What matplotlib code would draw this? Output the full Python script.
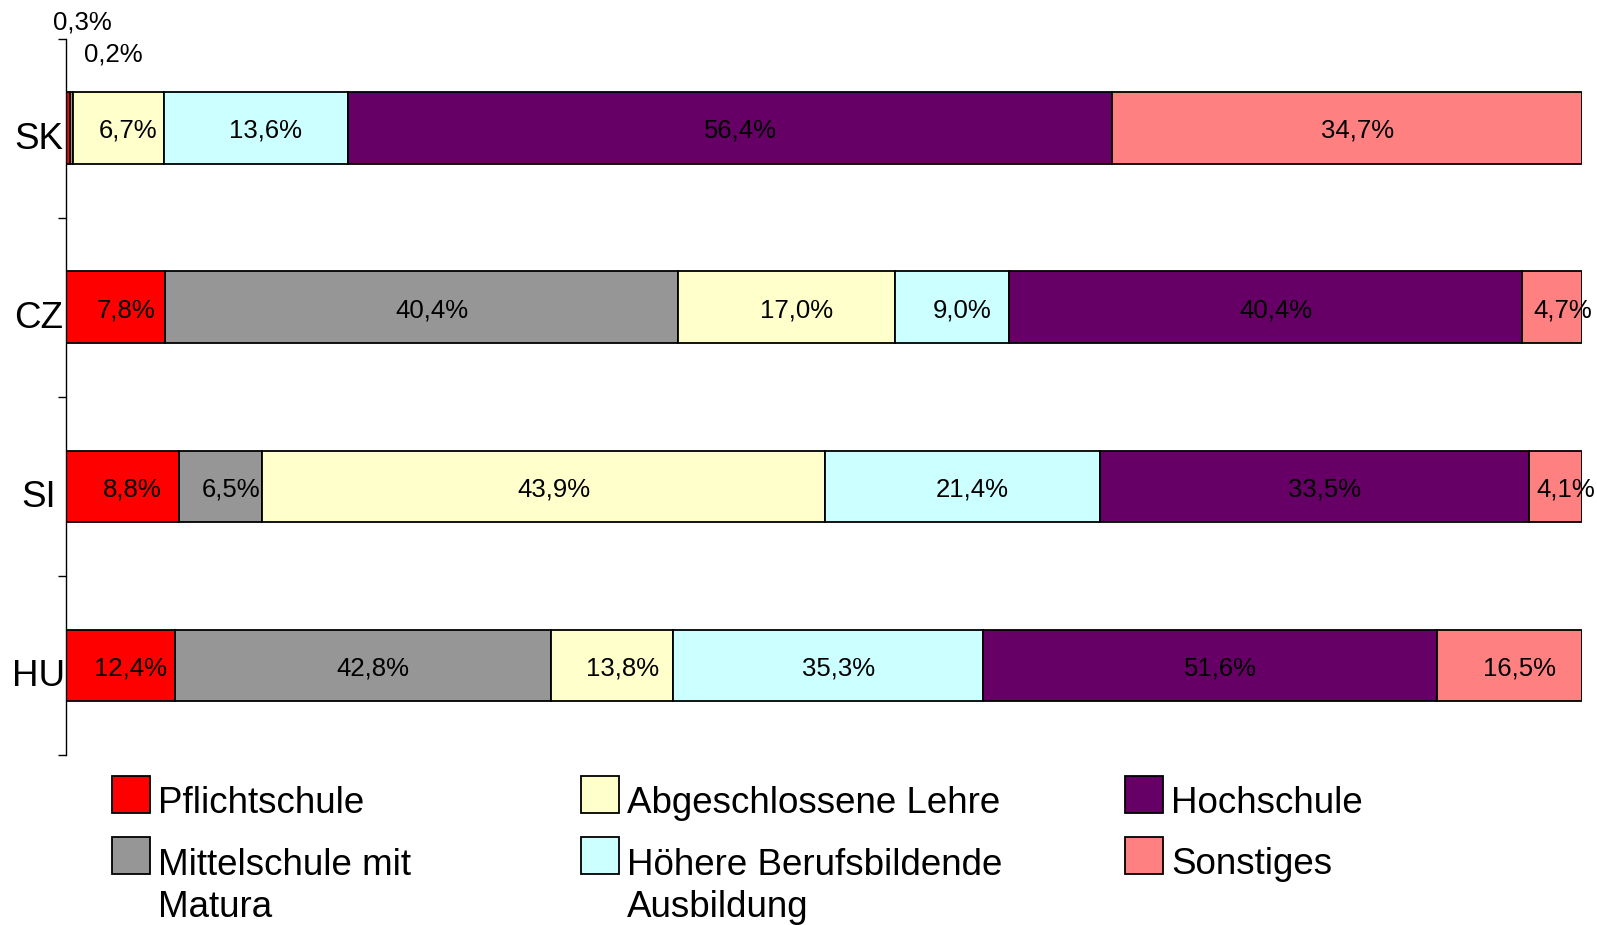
import numpy as np
import matplotlib
matplotlib.use("Agg")
import matplotlib.pyplot as plt
from matplotlib.patches import Rectangle
from matplotlib.transforms import ScaledTranslation

plt.rcParams['font.family'] = ['Liberation Sans', 'DejaVu Sans']

# data
countries = ["SK", "CZ", "SI", "HU"]
categories = ["Pflichtschule", "Mittelschule mit\nMatura", "Abgeschlossene Lehre",
              "Höhere Berufsbildende\nAusbildung", "Hochschule", "Sonstiges"]
colors = ["#FF0000", "#969696", "#FFFFCC", "#CCFFFF", "#660066", "#FF8080"]

pflicht = [0.3, 7.8, 8.8, 12.4]
mittel = [0.2, 40.4, 6.5, 42.8]
lehre = [6.7, 17.0, 43.9, 13.8]
bhs = [13.6, 9.0, 21.4, 35.3]
hochschule = [56.4, 40.4, 33.5, 51.6]
sonstiges = [34.7, 4.7, 4.1, 16.5]

values = np.array([pflicht, mittel, lehre, bhs, hochschule, sonstiges])  # (cat, country)
shares = values / values.sum(axis=0)

fig = plt.figure(figsize=(15.97, 9.25), dpi=100)
ax = fig.add_axes([0.0413, 0.1838, 0.9493, 0.7744])

y = np.arange(len(countries))
bar_h = 0.4
left = np.zeros(len(countries))

# offsets (points) for labels of tiny segments, placed above the bar
small_offsets = {0: (10, 50.5), 1: (30, 27)}
label_offset = (7.3, -2)

for i, cat in enumerate(categories):
    ax.barh(y, shares[i], left=left, height=bar_h, color=colors[i],
            edgecolor="black", linewidth=1.3)
    for j in range(len(countries)):
        txt = f"{values[i, j]:.1f}%".replace(".", ",")
        cx = left[j] + shares[i, j] / 2
        if shares[i, j] < 0.01:
            ax.annotate(txt, xy=(cx, y[j] - bar_h / 2), xytext=small_offsets[i],
                        textcoords="offset points", ha="center", va="center",
                        fontsize=18.5, annotation_clip=False)
        else:
            ax.annotate(txt, xy=(cx, y[j]), xytext=label_offset,
                        textcoords="offset points", ha="center", va="center",
                        fontsize=18.5, annotation_clip=False)
    left += shares[i]

ax.set_xlim(0, 1)
ax.set_ylim(len(countries) - 0.5, -0.5)
ax.set_xticks([])
for s in ["top", "right", "bottom"]:
    ax.spines[s].set_visible(False)
ax.spines["left"].set_linewidth(1.0)

ax.set_yticks(y)
ax.set_yticklabels(countries, fontsize=26.5, ha="center")
ax.tick_params(axis="y", which="major", length=0, pad=19.7)
ax.set_yticks(np.arange(-0.5, len(countries), 1.0), minor=True)
ax.tick_params(axis="y", which="minor", length=6, width=1.0)
shift = ScaledTranslation(0, -7 / 100, fig.dpi_scale_trans)
for lbl in ax.get_yticklabels():
    lbl.set_transform(lbl.get_transform() + shift)

# legend drawn by hand in figure coordinates
W, H = 1597, 925
col_handle_x = [112, 581, 1125]
col_text_x = [158, 627, 1171]
row_bottom = [813, 874]
line_gap = 43
for k, cat in enumerate(categories):
    c, r = k // 2, k % 2
    fig.add_artist(Rectangle((col_handle_x[c] / W, 1 - row_bottom[r] / H), 38 / W, 37 / H,
                             transform=fig.transFigure, facecolor=colors[k],
                             edgecolor="black", linewidth=1.3))
    n_extra = cat.count("\n")
    fig.text(col_text_x[c] / W, 1 - (row_bottom[r] + n_extra * line_gap) / H, cat,
             fontsize=26.5, ha="left", va="baseline", linespacing=1.25)

fig.savefig("out.png", dpi=100)
